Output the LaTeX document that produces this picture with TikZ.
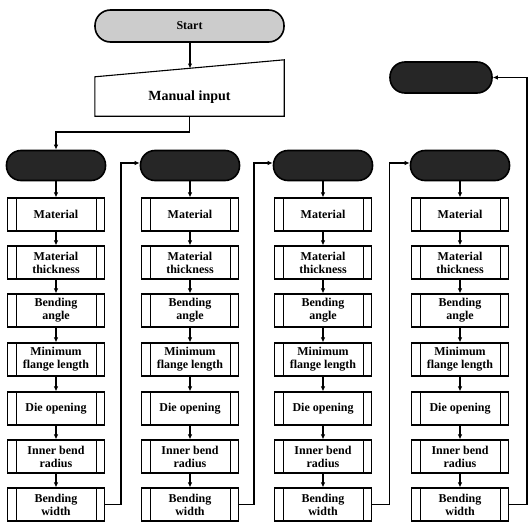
\documentclass[tikz,border=0pt]{standalone}
\usepackage{fontspec}
\setmainfont{Liberation Serif}
\usetikzlibrary{arrows.meta,calc}
\tikzset{
  conn/.style={line width=1.1pt,-{Latex[length=5pt,width=4.5pt]}},
  procbox/.style={draw,line width=1.1pt,minimum width=97pt,minimum height=33pt,inner sep=1pt,
    align=center,font=\bfseries\fontsize{12}{13}\selectfont,
    path picture={
      \draw[line width=0.8pt] ([xshift=8.5pt]path picture bounding box.north west) -- ([xshift=8.5pt]path picture bounding box.south west);
      \draw[line width=0.8pt] ([xshift=-8.5pt]path picture bounding box.north east) -- ([xshift=-8.5pt]path picture bounding box.south east);
    }},
  term/.style={draw,line width=1.6pt,fill=black!85,minimum width=99pt,minimum height=30pt,rounded corners=14.5pt},
}
\begin{document}
\begin{tikzpicture}[x=1pt,y=-1pt]
\useasboundingbox (0,0) rectangle (529,522);
% start
\node[draw,line width=1.6pt,fill=gray!40,minimum width=189pt,minimum height=32pt,rounded corners=15.5pt,
  font=\bfseries\fontsize{12}{14}\selectfont] (start) at (189.5,26) {Start};
% manual input
\node[minimum width=189pt,minimum height=56pt,inner sep=0pt] (mi) at (189.5,88) {};
\draw[line width=1.1pt] (mi.south west) -- (mi.south east) -- (mi.north east) -- ([yshift=-17pt]mi.north west) -- cycle;
\node[font=\bfseries\fontsize{14}{16}\selectfont] (mitext) at ([yshift=-9pt]mi.center) {Manual input};
\coordinate (mitop) at (190,68.5);
\draw[conn] (start.south -| mitop) -- (mitop);
% end terminator
\node[term,minimum width=102pt,minimum height=31pt,rounded corners=15pt] (fin) at (441,77.5) {};
% columns
\foreach \c/\x in {1/56,2/190,3/323,4/460}{
  \node[term] (t\c) at (\x,165.5) {};
  \node[procbox] (a\c) at (\x,214.5) {Material};
  \node[procbox] (b\c) at (\x,262.5) {Material\\thickness};
  \node[procbox] (c\c) at (\x,310.5) {Bending\\angle};
  \node[procbox] (d\c) at (\x,359.5) {Minimum\\flange length};
  \node[procbox] (e\c) at (\x,408.5) {Die opening};
  \node[procbox] (f\c) at (\x,456.5) {Inner bend\\radius};
  \node[procbox] (g\c) at (\x,504.5) {Bending\\width};
  \draw[conn] (t\c) -- (a\c);
  \draw[conn] (a\c) -- (b\c);
  \draw[conn] (b\c) -- (c\c);
  \draw[conn] (c\c) -- (d\c);
  \draw[conn] (d\c) -- (e\c);
  \draw[conn] (e\c) -- (f\c);
  \draw[conn] (f\c) -- (g\c);
}
% manual input to first terminator
\coordinate (elb) at (56,132);
\draw[conn] (mi.south) |- (elb) -- (t1.north);
% loops
\coordinate (l1) at (121,163);
\coordinate (l2) at (254,163);
\coordinate (l3) at (389.5,163);
\coordinate (l4) at (527,77.5);
\draw[conn] (g1.east) -| (l1) -- (l1 -| t2.west);
\draw[conn] (g2.east) -| (l2) -- (l2 -| t3.west);
\draw[conn] (g3.east) -| (l3) -- (l3 -| t4.west);
\draw[conn] (g4.east) -| (l4) -- (fin.east);
\end{tikzpicture}
\end{document}
